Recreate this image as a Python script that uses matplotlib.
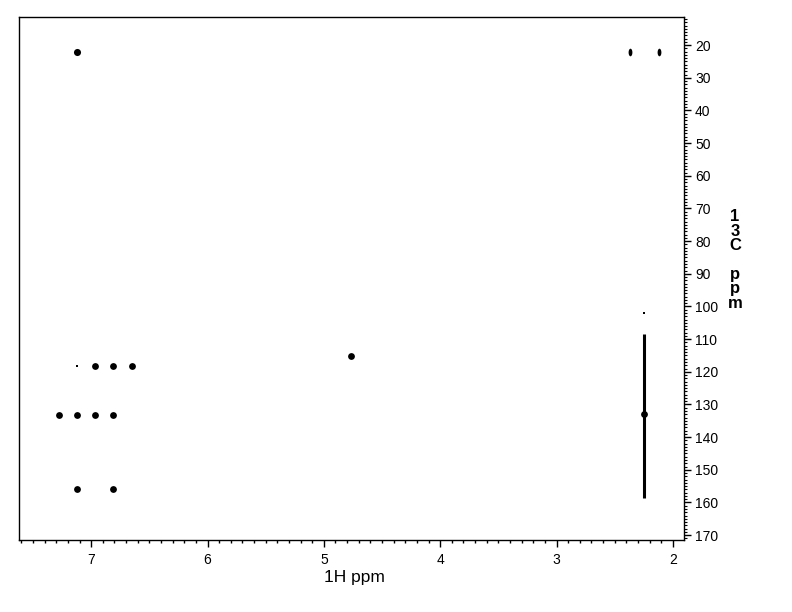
import numpy as np
import matplotlib
matplotlib.use("Agg")
import matplotlib.pyplot as plt
from matplotlib.ticker import MultipleLocator
from matplotlib.path import Path

plt.rcParams['font.family'] = ['Liberation Sans', 'DejaVu Sans']

# cross peaks (1H ppm, 13C ppm)
h_peaks = [6.97, 6.81, 6.65, 7.28, 7.12, 6.97, 6.81, 7.12, 6.81, 4.77, 2.25]
c_peaks = [118.2, 118.2, 118.2, 133.1, 133.1, 133.1, 133.1, 155.8, 155.8, 115.3, 133.0]
# weak peaks
weak_h = [7.12, 2.25]
weak_c = [118.2, 102.0]
# methyl peaks, elongated in F1
me_h = [7.12, 2.37, 2.12]
me_c = [22.1, 22.1, 22.1]
# t1 noise streak of the methyl signal
streak_h = [2.25, 2.25]
streak_c = [108.5, 158.5]

fig = plt.figure(figsize=(7.92, 6.12), dpi=100)
ax = fig.add_axes([0.024, 0.1176, 0.8396, 0.8546])

ax.scatter(h_peaks, c_peaks, s=24, c='black', marker='o', linewidths=0)
ax.scatter(weak_h, weak_c, s=4, c='black', marker='s', linewidths=0)
t = np.linspace(0, 2 * np.pi, 30)
ell = Path(np.column_stack([0.5 * np.cos(t), np.sin(t)]))
ax.scatter(me_h[1:], me_c[1:], s=30, c='black', marker=ell, linewidths=0)
ax.scatter(me_h[:1], me_c[:1], s=26, c='black', marker='o', linewidths=0)
ax.plot(streak_h, streak_c, color='black', lw=2.2, solid_capstyle='butt')

ax.set_xlim(7.62, 1.905)
ax.set_ylim(171.5, 11.4)

ax.yaxis.tick_right()
ax.xaxis.set_major_locator(MultipleLocator(1))
ax.xaxis.set_minor_locator(MultipleLocator(0.1))
ax.yaxis.set_major_locator(MultipleLocator(10))
ax.yaxis.set_minor_locator(MultipleLocator(1))
ax.tick_params(axis='x', which='major', direction='out', length=5, width=1, pad=4, labelsize=10)
ax.tick_params(axis='x', which='minor', direction='out', length=2.5, width=1)
ax.tick_params(axis='y', which='major', direction='out', length=5, width=1, pad=3, labelsize=10)
ax.tick_params(axis='y', which='minor', direction='out', length=2, width=0.8)
for sp in ax.spines.values():
    sp.set_linewidth(1)

fig.text(0.448, 0.057, '1H ppm', ha='center', va='center', fontsize=12.5)
fig.text(0.928, 0.575, '1\n3\nC\n\np\np\nm', ha='center', va='center',
         fontsize=12, fontweight='bold', linespacing=0.95)

fig.savefig('out.png', dpi=100)
